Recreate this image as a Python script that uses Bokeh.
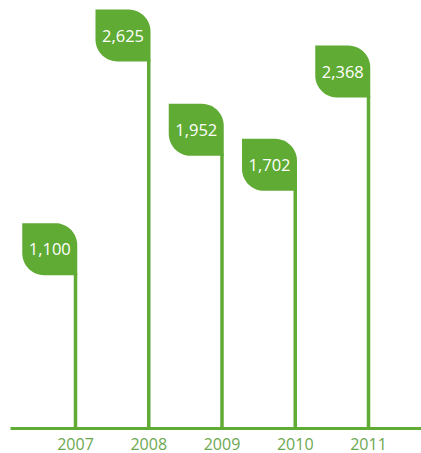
import numpy as np
from bokeh.plotting import figure
from bokeh.models import FixedTicker, Range1d, ColumnDataSource
from bokeh.core.properties import value
from bokeh.embed import file_html
from bokeh.resources import INLINE

# ---- data ----
years = [2007, 2008, 2009, 2010, 2011]
amounts = [1100, 2625, 1952, 1702, 2368]
labels = ["1,100", "2,625", "1,952", "1,702", "2,368"]

# ---- style ----
GREEN = "#5fab34"
AXIS_TEXT = "#6ca850"
FONT = "Open Sans"

FRAME_W, FRAME_H = 411, 420
x_range = Range1d(2006.1126, 2011.7235)
y_range = Range1d(-365.0, 2632.2)
px_x = (x_range.end - x_range.start) / FRAME_W   # data per px (x)
px_y = (y_range.end - y_range.start) / FRAME_H   # data per px (y)

p = figure(frame_width=FRAME_W, frame_height=FRAME_H, x_range=x_range, y_range=y_range,
           output_backend="svg", toolbar_location=None,
           min_border_left=10, min_border_top=8, min_border_right=0, min_border_bottom=25)
p.outline_line_color = None
p.grid.visible = False
p.yaxis.visible = False
p.background_fill_color = "white"
p.border_fill_color = "white"

ax = p.xaxis[0]
ax.ticker = FixedTicker(ticks=years)
ax.axis_line_color = GREEN
ax.axis_line_width = 3
ax.major_tick_line_color = None
ax.minor_tick_line_color = None
ax.major_label_text_color = AXIS_TEXT
ax.major_label_text_font = FONT
ax.major_label_text_font_size = "16px"
ax.major_label_standoff = 3

FW, FH, R = 55, 52, 22

# poles (start at the bottom of each flag)
p.segment(x0=years, y0=[v - (FH - 2) * px_y for v in amounts], x1=years,
          y1=[y_range.start] * len(years), line_color=GREEN, line_width=3.5)

# flag shapes (leaf-like: rounded top-right and bottom-left corners)
def flag(xc, v):
    right = 1.75
    pts = [(right - FW, 0), (right - R, 0)]
    for a in np.linspace(-np.pi / 2, 0, 14):
        pts.append((right - R + R * np.cos(a), R + R * np.sin(a)))
    pts.append((right, FH))
    pts.append((right - FW + R, FH))
    for a in np.linspace(np.pi / 2, np.pi, 14):
        pts.append((right - FW + R + R * np.cos(a), FH - R + R * np.sin(a)))
    pts.append((right - FW, 0))
    xs = [xc + dx * px_x for dx, dy in pts]
    ys = [v - dy * px_y for dx, dy in pts]
    return xs, ys

fx, fy = zip(*[flag(x, v) for x, v in zip(years, amounts)])
p.patches(xs=list(fx), ys=list(fy), fill_color=GREEN, line_color=None)

src = ColumnDataSource(dict(x=years, y=[v - 26 * px_y for v in amounts], t=labels))
p.text(x="x", y="y", text="t", source=src, x_offset=-(FW / 2 - 1.75),
       text_align="center", text_baseline="middle", text_color="white",
       text_font=value(FONT), text_font_size="16.5px")

open("out.html", "w").write(file_html(p, INLINE))
